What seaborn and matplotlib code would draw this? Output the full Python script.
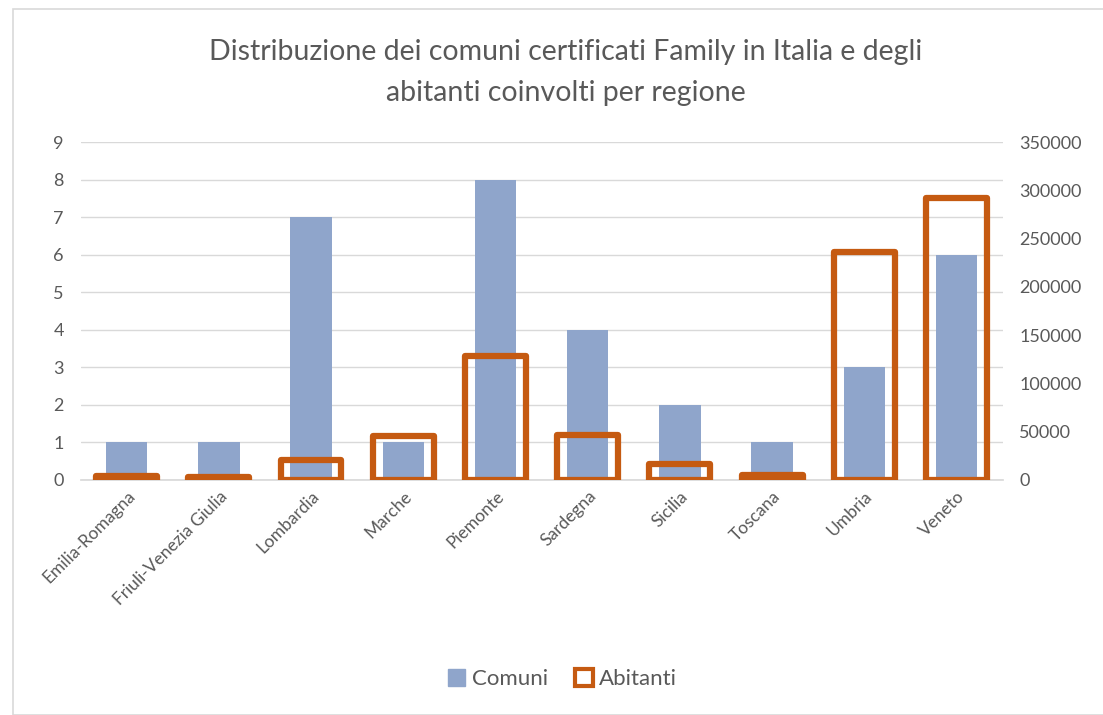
import seaborn as sns
import pandas as pd
import matplotlib.pyplot as plt
from matplotlib.patches import Rectangle, Patch

# Data
regioni = ["Emilia-Romagna", "Friuli-Venezia Giulia", "Lombardia", "Marche", "Piemonte",
           "Sardegna", "Sicilia", "Toscana", "Umbria", "Veneto"]
comuni = [1, 1, 7, 1, 8, 4, 2, 1, 3, 6]
abitanti = [4000, 3000, 20000, 45500, 128000, 46500, 16500, 5000, 236000, 292000]

df = pd.DataFrame({"Regione": regioni, "Comuni": comuni, "Abitanti": abitanti})

sns.set_theme(style="white")
plt.rcParams["font.family"] = ["Lato", "DejaVu Sans"]

blu = "#8FA5CB"
arancio = "#C55A11"
grigio = "#595959"

fig = plt.figure(figsize=(11.03, 7.15), dpi=100)
ax = fig.add_axes([0.073, 0.329, 0.836, 0.472])
ax2 = ax.twinx()

sns.barplot(data=df, x="Regione", y="Comuni", ax=ax, color=blu, width=0.45,
            saturation=1, linewidth=0, zorder=2)
sns.barplot(data=df, x="Regione", y="Abitanti", ax=ax2, fill=False, color=arancio,
            width=0.66, linewidth=4.5, saturation=1)
for p in ax2.patches:
    p.set_edgecolor(arancio)
    p.set_joinstyle("round")

ax.set_ylim(0, 9)
ax.set_yticks(range(0, 10))
ax2.set_ylim(0, 350000)
ax2.set_yticks(range(0, 350001, 50000))
ax.set_xlim(-0.5, 9.5)

ax.yaxis.grid(True, color="#D9D9D9", linewidth=1)
ax.set_axisbelow(True)
for a in (ax, ax2):
    for s in a.spines.values():
        s.set_visible(False)
    a.set_xlabel("")
    a.set_ylabel("")
    a.tick_params(length=0, colors=grigio, labelsize=13)
ax.spines["bottom"].set_visible(True)
ax.spines["bottom"].set_color("#D9D9D9")
ax.tick_params(axis="y", pad=12)
ax2.tick_params(axis="y", pad=12)
ax.set_xticks(range(len(regioni)))
ax.set_xticklabels(regioni, rotation=45, ha="right", rotation_mode="anchor", fontsize=12.5)
ax.tick_params(axis="x", pad=6)

fig.suptitle("Distribuzione dei comuni certificati Family in Italia e degli\nabitanti coinvolti per regione",
             x=0.513, y=0.945, fontsize=20.5, color=grigio, linespacing=1.7)

handles = [Patch(facecolor=blu, edgecolor=blu, label="Comuni"),
           Patch(facecolor="white", edgecolor=arancio, linewidth=3, label="Abitanti")]
fig.legend(handles=handles, loc="center", bbox_to_anchor=(0.51, 0.05), ncol=2, frameon=False,
           fontsize=16, labelcolor=grigio, handlelength=0.8, handleheight=0.8,
           handletextpad=0.3, columnspacing=1.2)

fig.patches.append(Rectangle((0.012, 0.0), 0.99, 0.988, transform=fig.transFigure,
                             fill=False, edgecolor="#D9D9D9", linewidth=1.2))

fig.savefig("out.png", dpi=100)
